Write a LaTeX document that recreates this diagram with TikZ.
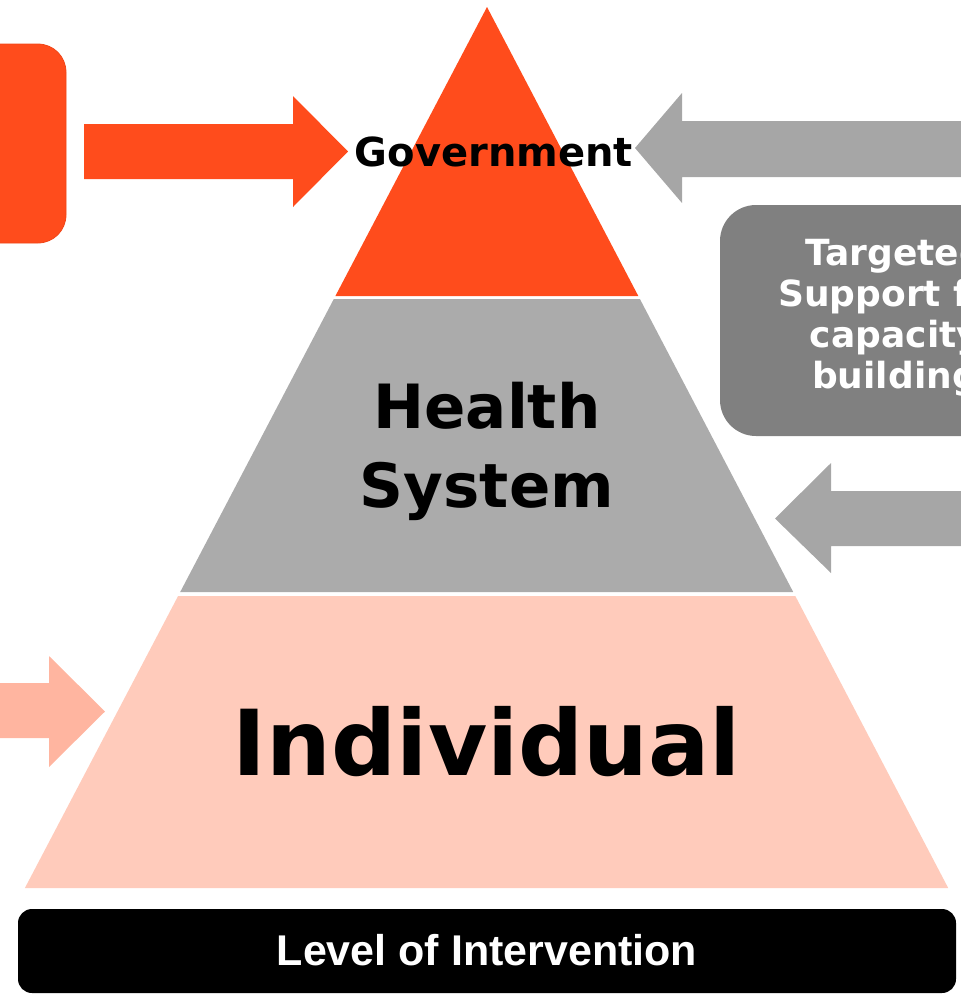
\documentclass[tikz,border=0pt]{standalone}
\usepackage{fontspec}
\setmainfont{DejaVu Sans}
\newfontfamily\barfont{Liberation Sans}

\tikzset{every picture/.style={line width=0.75pt}}
\tikzset{
  heavy/.style={font=\bfseries, inner sep=0pt},
  blockarrow/.style={draw=none},
}

\begin{document}
\begin{tikzpicture}[x=1pt,y=1pt,yscale=-1,xscale=1]
	\useasboundingbox (0,0) rectangle (961,994);
	\clip (0,0) rectangle (961,994);

	%Shape: Rounded Rectangle, left box [id:leftbox]
	\draw  [draw={rgb, 255:red, 240; green, 70; blue, 24 }, fill={rgb, 255:red, 255; green, 76; blue, 28 }, rounded corners=28] (-150,44) rectangle (66,243) ;
	%Shape: Right Arrow, orange [id:govarrow]
	\draw  [blockarrow, fill={rgb, 255:red, 255; green, 76; blue, 28 }] (84,124) -- (293,124) -- (293,96) -- (348,151.5) -- (293,207) -- (293,179) -- (84,179) -- cycle ;
	%Shape: Right Arrow, salmon [id:indarrow]
	\draw  [blockarrow, fill={rgb, 255:red, 255; green, 181; blue, 160 }] (-10,683) -- (49,683) -- (49,656) -- (105,711.5) -- (49,767) -- (49,738) -- (-10,738) -- cycle ;
	%Shape: Left Arrow, gray top [id:supportarrow1]
	\draw  [blockarrow, fill={rgb, 255:red, 166; green, 166; blue, 166 }] (975,121) -- (682,121) -- (682,93) -- (635,148) -- (682,203) -- (682,177) -- (975,177) -- cycle ;
	%Shape: Left Arrow, gray lower [id:supportarrow2]
	\draw  [blockarrow, fill={rgb, 255:red, 166; green, 166; blue, 166 }] (975,491) -- (831,491) -- (831,463) -- (775,518.5) -- (831,573) -- (831,546) -- (975,546) -- cycle ;

	%Shape: Triangle, top tier [id:tiergov]
	\draw  [draw=none, fill={rgb, 255:red, 255; green, 76; blue, 28 }] (487,7) -- (638.3,296) -- (335.4,296) -- cycle ;
	%Shape: Trapezoid, middle tier [id:tierhealth]
	\draw  [draw=none, fill={rgb, 255:red, 171; green, 171; blue, 171 }] (333.8,299) -- (639.9,299) -- (793.2,592) -- (180.2,592) -- cycle ;
	%Shape: Trapezoid, bottom tier [id:tierind]
	\draw  [draw=none, fill={rgb, 255:red, 255; green, 203; blue, 187 }] (178.1,596) -- (795.3,596) -- (948.2,888) -- (24.9,888) -- cycle ;

	%Shape: Rounded Rectangle, support box [id:supportbox]
	\draw  [draw=none, fill={rgb, 255:red, 128; green, 128; blue, 128 }, rounded corners=36] (720,205) rectangle (1070,436) ;
	%Shape: Rounded Rectangle, bottom bar [id:levelbar]
	\draw  [draw=none, fill={rgb, 255:red, 0; green, 0; blue, 0 }, rounded corners=14] (18,909) rectangle (956,993) ;

	% Text Node
	\draw (494,166) node [heavy, anchor=base] (gov) {\fontsize{40}{40}\selectfont Government};
	% Text Node
	\draw (487,428) node [heavy, anchor=base] (health) {\fontsize{61}{61}\selectfont Health};
	% Text Node
	\draw (487,507) node [heavy, anchor=base] (system) {\fontsize{61}{61}\selectfont System};
	% Text Node
	\draw (487,775) node [heavy, anchor=base] (ind) {\fontsize{91}{91}\selectfont Individual};
	% Text Node
	\draw (895,317) node [heavy, font=\bfseries\fontsize{36}{41}\selectfont, text=white, align=center] (support) {Targeted\\Support for\\capacity\\building};
	% Text Node
	\draw (487,965) node [heavy, text=white, anchor=base] (level) {\barfont\bfseries\fontsize{43}{43}\selectfont Level of Intervention};

\end{tikzpicture}
\end{document}
